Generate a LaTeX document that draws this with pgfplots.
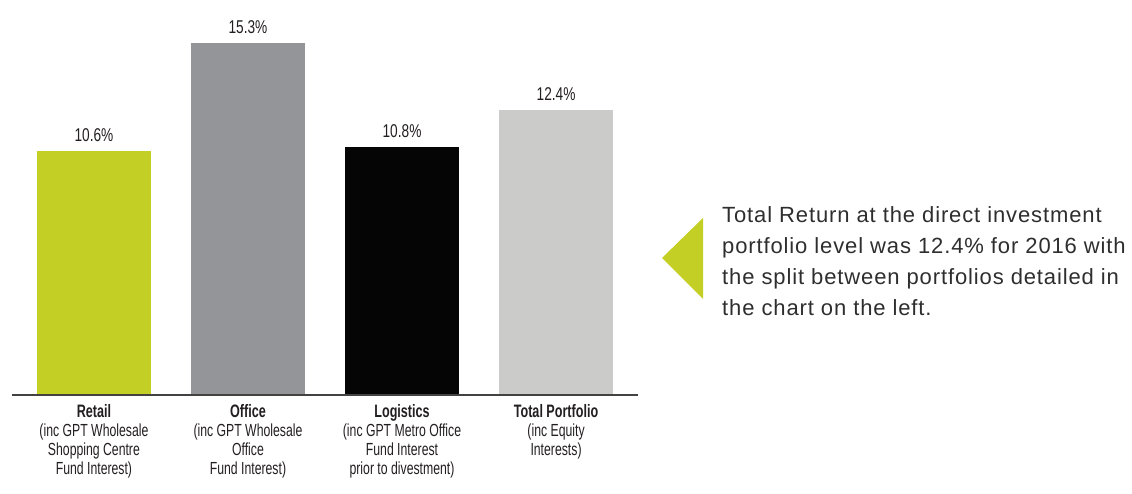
\documentclass[border=0pt]{standalone}
\usepackage{fontspec}
\setmainfont{Liberation Sans}
\newfontfamily\condfont[FakeStretch=0.74]{Liberation Sans}
\newfontfamily\labfont[FakeStretch=0.70]{Liberation Sans}
\newfontfamily\bodyfont[LetterSpace=4]{Liberation Sans}
\usepackage{pgfplots}
\pgfplotsset{compat=1.18}
\definecolor{limeg}{HTML}{C3CF24}
\definecolor{officeg}{HTML}{939598}
\definecolor{logblack}{HTML}{050505}
\definecolor{totalg}{HTML}{CBCBCA}
\definecolor{txt}{HTML}{231F20}
\definecolor{bodytxt}{HTML}{2E2E2E}
\begin{document}
\begin{tikzpicture}
\path[use as bounding box] (0pt,0pt) rectangle (1132pt,493pt);
\begin{axis}[
  at={(12pt,98pt)}, anchor=south west,
  scale only axis, width=626pt, height=391pt,
  xmin=-0.532, xmax=3.532, ymin=0, ymax=17,
  axis line style={draw=none},
  ytick=\empty,
  xtick={0,1,2,3},
  major tick length=0pt,
  /pgf/number format/assume math mode=true,
  xticklabels={
    {{\fontsize{18}{19}\selectfont\textbf{Retail}}\\(inc GPT Wholesale\\Shopping Centre\\Fund Interest)},
    {{\fontsize{18}{19}\selectfont\textbf{Office}}\\(inc GPT Wholesale\\Office\\Fund Interest)},
    {{\fontsize{18}{19}\selectfont\textbf{Logistics}}\\(inc GPT Metro Office\\Fund Interest\\prior to divestment)},
    {{\fontsize{18}{19}\selectfont\textbf{Total Portfolio}}\\(inc Equity\\Interests)}},
  xticklabel style={align=center, text=txt, font=\labfont\fontsize{17.5}{19}\selectfont, anchor=north, inner sep=0pt, yshift=-9pt},
  ybar, bar width=114pt, bar shift=0pt,
  clip=false,
  nodes near coords={\pgfmathprintnumber[fixed,fixed zerofill,precision=1,assume math mode=true]{\pgfplotspointmeta}\%},
  nodes near coords style={anchor=south, inner sep=0pt, yshift=9pt, text=txt, font=\condfont\fontsize{18.5}{20}\selectfont},
]
\addplot[fill=limeg, draw=none] coordinates {(0,10.6)};
\addplot[fill=officeg, draw=none] coordinates {(1,15.3)};
\addplot[fill=logblack, draw=none] coordinates {(2,10.8)};
\addplot[fill=totalg, draw=none] coordinates {(3,12.4)};
\draw[line width=2pt, color=txt!85] (rel axis cs:0,0) -- (rel axis cs:1,0);
\end{axis}
\fill[limeg] (662pt,235pt) -- (703pt,275pt) -- (703pt,194pt) -- cycle;
\node[anchor=north west, inner sep=0pt, align=left, text=bodytxt, font=\bodyfont\fontsize{22}{31}\selectfont] at (722pt,287pt)
  {Total Return at the direct investment\\portfolio level was 12.4\% for 2016 with\\the split between portfolios detailed in\\the chart on the left.};
\end{tikzpicture}
\end{document}
